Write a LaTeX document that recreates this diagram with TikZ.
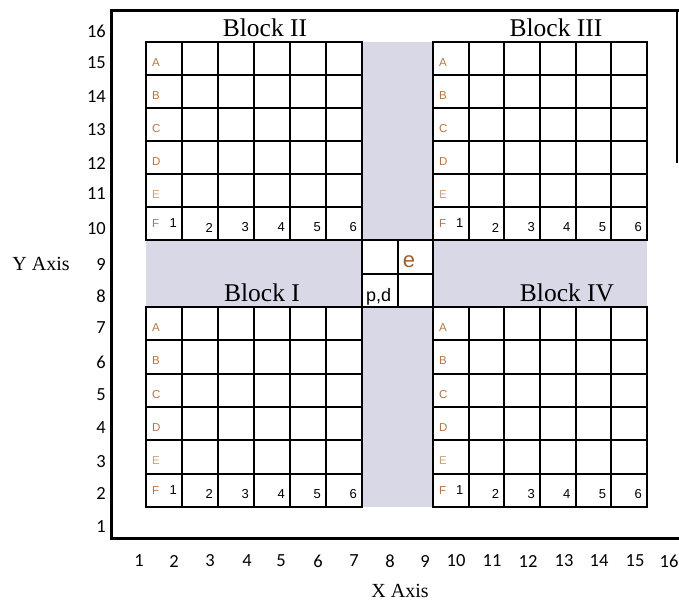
\documentclass[tikz,border=0pt]{standalone}
\usepackage{fontspec}
\setmainfont{Liberation Serif}
\newfontfamily\arialf{Liberation Sans}
\newfontfamily\calf{Carlito}
\definecolor{stripgray}{RGB}{216,216,230}
\definecolor{lettc}{RGB}{178,118,72}
\definecolor{lettlight}{RGB}{200,165,120}
\definecolor{ebrown}{RGB}{165,95,45}
\begin{document}
\begin{tikzpicture}[x=1pt,y=-1pt,
  gridline/.style={line width=2pt},
  blocktitle/.style={font=\fontsize{25.5}{25.5}\selectfont, anchor=base, inner sep=0},
  axisnum/.style={font=\calf\fontsize{18.5}{18.5}\selectfont, inner sep=0},
  letterlab/.style={font=\arialf\fontsize{11.5}{11.5}\selectfont, anchor=west, inner sep=0},
  celldigit/.style={font=\arialf\fontsize{13}{13}\selectfont, anchor=east, inner sep=0},
  axistitle/.style={font=\fontsize{20}{20}\selectfont, inner sep=0}]
\useasboundingbox (0,0) rectangle (679,603);
% gray strips
\fill[stripgray] (146,240) rectangle (647,307);
\fill[stripgray] (362,42) rectangle (433,507);
% frame
\draw[line width=3pt] (679,10) -- (111,10) -- (111,538) -- (679,538);
\draw[line width=2pt] (677,10) -- (677,163);
% blocks
\foreach \xa/\xb/\ya/\yb/\bn in {146/362/42/240/II, 433/647/42/240/III, 146/362/307/507/I, 433/647/307/507/IV} {
  \draw[gridline, fill=white] (\xa,\ya) rectangle (\xb,\yb);
  \foreach \k in {1,...,5} {
    \draw[gridline] ({\xa+(\xb-\xa)*\k/6},\ya) -- ({\xa+(\xb-\xa)*\k/6},\yb);
    \draw[gridline] (\xa,{\ya+(\yb-\ya)*\k/6}) -- (\xb,{\ya+(\yb-\ya)*\k/6});
  }
  \foreach \lt/\r/\dy/\cl in {A/1/4/lettc, B/2/4/lettc, C/3/4/lettc, D/4/4/lettc, E/5/4/lettlight, F/6/0/lettc}
    \node[letterlab, text=\cl] (lab\bn\lt) at ({\xa+6}, {\ya+(\yb-\ya)*(\r-0.5)/6+\dy}) {\lt};
  \foreach \c/\dy in {1/0,2/4,3/4,4/4,5/4,6/4}
    \node[celldigit] (num\bn\c) at ({\xa+(\xb-\xa)*\c/6-5}, {\ya+(\yb-\ya)*5.5/6+\dy}) {\c};
}
% central box
\draw[gridline, fill=white] (362,240) rectangle (433,307);
\draw[gridline] (398,240) -- (398,307);
\draw[gridline] (362,274) -- (433,274);
\node[font=\arialf\fontsize{22}{22}\selectfont, text=ebrown, inner sep=0] (e) at (409,262) {e};
\node[font=\arialf\fontsize{18}{18}\selectfont, anchor=base west, inner sep=0] (pd) at (366,301) {p,d};
% titles
\node[blocktitle] (t2) at (265,36) {Block II};
\node[blocktitle] (t3) at (556,36) {Block III};
\node[blocktitle] (t1) at (262,301) {Block I};
\node[blocktitle] (t4) at (567,301) {Block IV};
% y axis numbers
\foreach \n/\yc in {16/31,15/63,14/97,13/130,12/163,11/194,10/229,9/264,8/296,7/328,6/362,5/395,4/428,3/462,2/493,1/527}
  \node[axisnum, anchor=east] (y\n) at (106,\yc) {\n};
% x axis numbers
\foreach \n/\xc in {1/139,2/174,3/210,4/247,5/281,6/318,7/354,8/390,9/425,10/456,11/492,12/528,13/564,14/599,15/635,16/669}
  \node[axisnum] (x\n) at (\xc,561) {\n};
\node[axistitle] (ylab) at (41,264) {Y Axis};
\node[axistitle] (xlab) at (400,591) {X Axis};
\end{tikzpicture}
\end{document}
